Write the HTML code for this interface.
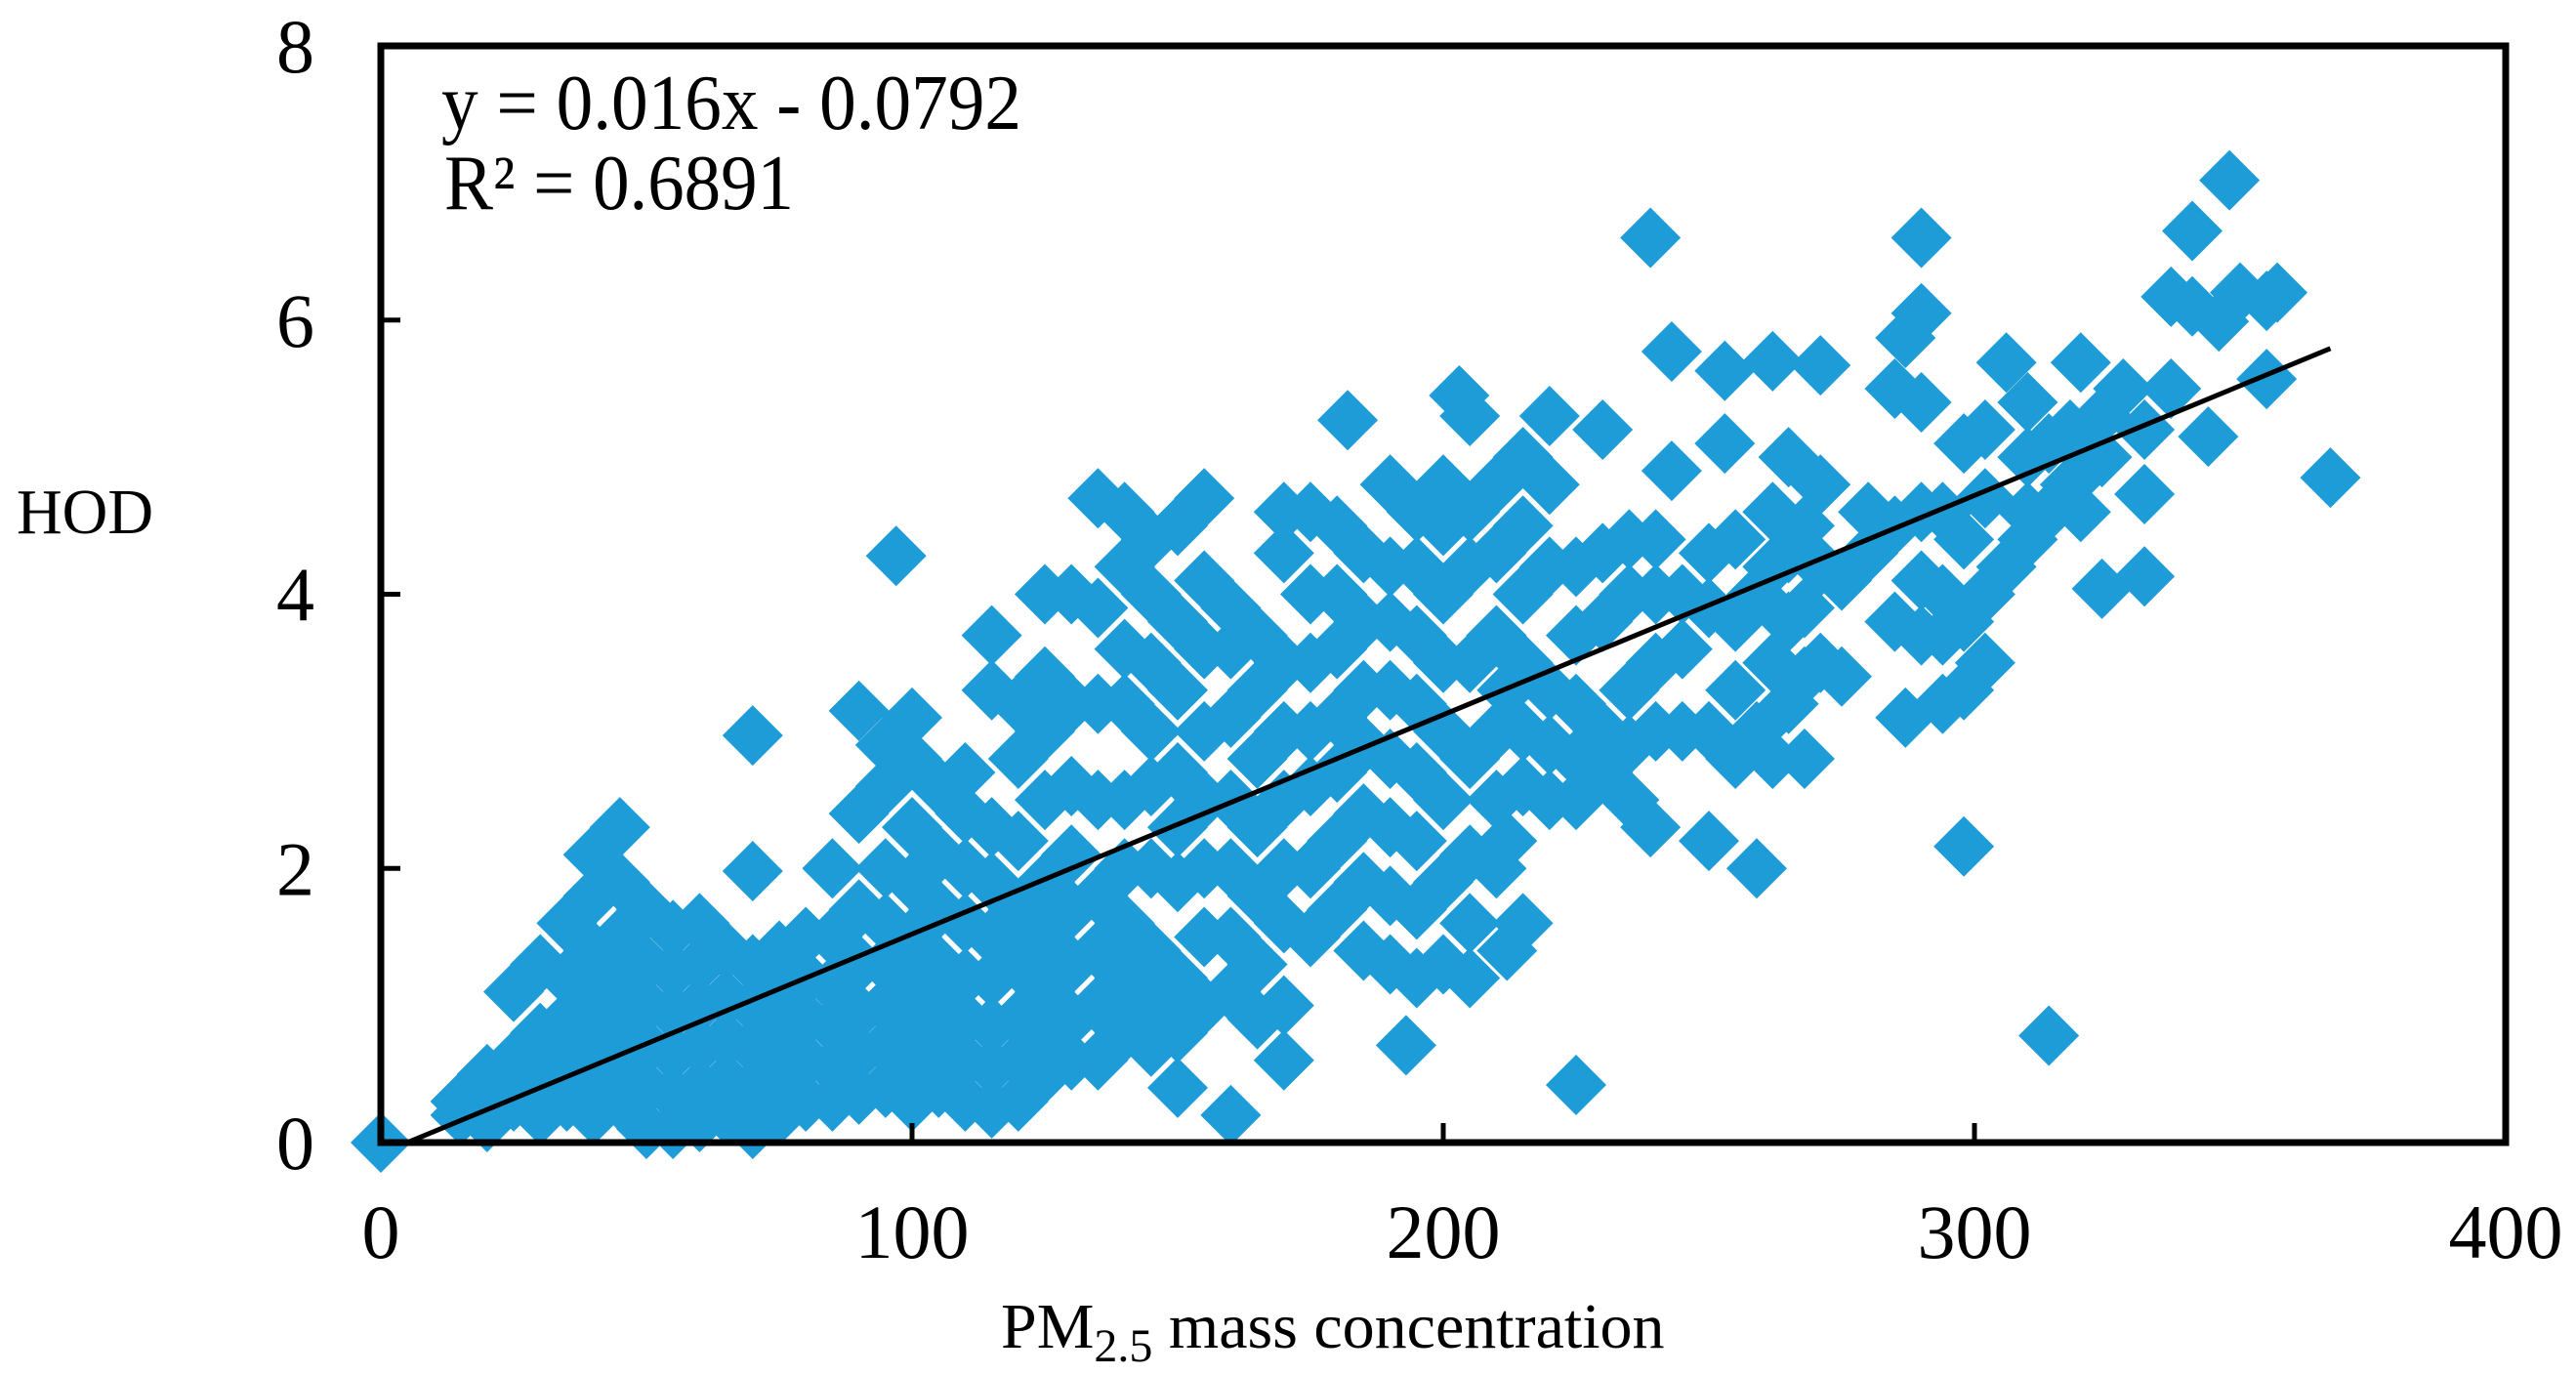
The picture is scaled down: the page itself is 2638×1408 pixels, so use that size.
<!DOCTYPE html>
<html><head><meta charset="utf-8"><style>
html,body{margin:0;padding:0;background:#fff}
svg{display:block}
text{font-family:"Liberation Serif",serif;fill:#000}
</style></head><body>
<svg id="chart" width="2638" height="1408" viewBox="0 0 2638 1408" xmlns="http://www.w3.org/2000/svg">
<rect x="0" y="0" width="2638" height="1408" fill="#fff"/>
<g id="points"></g>
<g id="trend"></g>
<g id="axes"></g>
<text x="452" y="132" font-size="80" textLength="594" lengthAdjust="spacingAndGlyphs">y = 0.016x - 0.0792</text>
<text x="455" y="214" font-size="80" textLength="358" lengthAdjust="spacingAndGlyphs">R² = 0.6891</text>
<text x="17" y="546" font-size="66" textLength="140" lengthAdjust="spacingAndGlyphs">HOD</text>
<text x="1025" y="1380" font-size="66">PM<tspan font-size="48" dy="14">2.5</tspan><tspan dy="-14"> mass concentration</tspan></text>
</svg>
<script>
const xTicks = [0, 100, 200, 300, 400];
const yTicks = [0, 2, 4, 6, 8];
const slope = 0.016;
const intercept = -0.0792;
const trendRange = [5, 367];
const pmCols = [0,15,20,25,30,35,40,45,50,55,60,65,70,75,80,85,90,95,97,100,105,110,115,120,125,130,135,140,145,150,155,160,165,170,175,180,182,185,190,193,195,200,203,205,210,212,215,220,225,230,235,239,240,243,245,250,253,255,259,262,265,268,271,275,280,285,287,290,294,298,302,306,310,314,318,320,324,328,332,337,341,344,346,348,350,355,357,367];
const hodCols = [[0],[.3,.2],[.15,.5,.35],[.3,.6,1.1,.45],[.2,.5,.8,1.3,.35],[.3,.6,.9,1.2,1.6],[.2,.5,.8,1.1,1.4,1.8,2.1],[.3,.6,.9,1.2,1.5,1.9,2.3],[.1,.4,.7,1.0,1.3,1.7],[.1,.35,.65,.95,1.25,1.55],[.15,.4,.7,1.0,1.3,1.6],[.2,.45,.75,1.05,1.4],[.1,.4,.7,1.0,1.3,1.98,2.97],[.2,.5,.8,1.1,1.4],[.3,.6,.9,1.2,1.5],[.3,.55,.85,1.15,1.5,2.0],[.35,.65,.95,1.3,1.7,2.4,3.15],[.4,.7,1.0,1.3,1.6,2.0,2.6,2.9],[4.28],[.3,.6,.9,1.2,1.5,1.9,2.3,2.8,3.1],[.4,.7,1.0,1.3,1.7,2.1,2.6],[.3,.6,.9,1.2,1.6,2.0,2.4,2.7],[.25,.55,.85,1.2,1.5,1.9,2.3,3.3,3.7],[.3,.6,.9,1.3,1.7,2.2,2.8,3.2],[.5,.8,1.1,1.5,1.9,2.5,3.0,3.4,4.0],[.6,.9,1.3,1.7,2.1,2.6,3.2,4.0],[.6,1.0,1.4,1.8,2.5,3.2,3.9,4.7],[.8,1.2,1.6,2.0,2.5,3.2,3.6,4.2,4.6],[.7,1.0,1.4,2.0,2.6,3.0,3.5,4.0,4.4],[.4,.8,1.2,1.9,2.3,2.7,3.3,3.8,4.5],[1.0,1.5,2.0,2.5,3.0,3.6,4.1,4.7],[.2,1.1,1.5,2.0,2.5,3.1,3.6,3.9],[.9,1.3,1.8,2.3,2.8,3.3,3.7],[.6,1.0,1.6,2.0,2.5,3.0,3.5,4.3,4.6],[1.5,2.0,2.6,3.0,3.5,4.0,4.6],[1.7,2.2,2.7,3.1,3.6,4.0,4.5],[5.27],[1.4,1.9,2.4,2.9,3.3,3.8,4.3],[1.3,1.8,2.3,2.8,3.3,3.8,4.2,4.8],[.71],[1.2,1.7,2.2,2.7,3.2,3.7,4.2,4.6],[1.3,1.9,2.5,3.0,3.5,4.0,4.5,4.8],[5.45],[1.2,1.6,2.1,2.8,3.5,4.2,4.6,5.3],[2.0,2.5,3.0,3.7,4.3,4.8],[1.4,2.2,3.3],[1.6,2.6,3.0,3.5,4.0,4.5,5.0],[2.5,2.9,3.3,4.2,4.8,5.3],[2.5,2.8,3.2,3.7,4.2,.42],[2.7,3.0,3.8,4.3,5.2],[2.5,2.9,3.3,4.0,4.4],[2.3,6.6],[3.0,3.5,4.0,4.4],[4.9,5.77],[3.0,3.6,4.0],[2.2,3.0,3.9,4.3],[5.63,5.1],[2.8,3.3,3.8,4.4],[2.0,3.0,4.0],[2.8,3.5,4.2,4.6,5.7],[3.2,3.8,4.3,5.0],[2.8,3.4,3.9,4.5],[3.5,4.2,4.8,5.67],[3.4,4.1],[4.3,4.6],[4.5,5.5,3.8],[5.87,3.1],[3.7,4.1,4.6,6.6,6.05,5.4],[3.2,3.7,4.0,4.6],[2.16,3.3,3.8,4.4,5.1],[3.5,4.0,4.7,5.2],[5.69,4.2],[4.4,5.0,5.4,4.6],[.78,4.6,5.1],[4.8,5.2],[5.69,4.6],[4.04,5.0,5.3],[5.5],[4.13,4.73,5.2],[6.17,5.5],[6.65,6.1],[5.15],[5.99],[7.02],[6.2],[5.57,6.14],[6.2],[4.85]];

const NS = 'http://www.w3.org/2000/svg';
const L = 390, R = 2566, T = 47, B = 1170;
function sx(v){ return L + (v - xTicks[0]) / (xTicks[xTicks.length-1] - xTicks[0]) * (R - L); }
function sy(v){ return B - (v - yTicks[0]) / (yTicks[yTicks.length-1] - yTicks[0]) * (B - T); }
function mk(tag, attrs){ const e = document.createElementNS(NS, tag); for (const k in attrs) e.setAttribute(k, attrs[k]); return e; }

const pts = document.getElementById('points');
const H = 31;
pmCols.forEach((x, i) => {
  hodCols[i].forEach(y => {
    const cx = sx(x), cy = sy(y);
    const p = mk('polygon', {points: `${cx},${cy-H} ${cx+H},${cy} ${cx},${cy+H} ${cx-H},${cy}`, fill: '#1e9cd8'});
    
    
    pts.appendChild(p);
  });
});

const tr = document.getElementById('trend');
const line = mk('line', {x1: sx(trendRange[0]), y1: sy(slope*trendRange[0]+intercept), x2: sx(trendRange[1]), y2: sy(slope*trendRange[1]+intercept), stroke: '#000', 'stroke-width': 5});


tr.appendChild(line);

const ax = document.getElementById('axes');
const frame = mk('rect', {x: L, y: T, width: R-L, height: B-T, fill: 'none', stroke: '#000', 'stroke-width': 7});


ax.appendChild(frame);
xTicks.forEach(v => {
  const x = sx(v);
  const t = mk('line', {x1: x, y1: B, x2: x, y2: B-20, stroke: '#000', 'stroke-width': 5});
  
  
  ax.appendChild(t);
  const lb = mk('text', {x: x, y: 1288, 'font-size': 78, 'text-anchor': 'middle'});
  lb.textContent = v;
  
  
  ax.appendChild(lb);
});
yTicks.forEach(v => {
  const y = sy(v);
  const t = mk('line', {x1: L, y1: y, x2: L+20, y2: y, stroke: '#000', 'stroke-width': 5});
  
  
  ax.appendChild(t);
  const lb = mk('text', {x: 322, y: y+27, 'font-size': 78, 'text-anchor': 'end'});
  lb.textContent = v;
  
  
  ax.appendChild(lb);
});
</script>
</body></html>
